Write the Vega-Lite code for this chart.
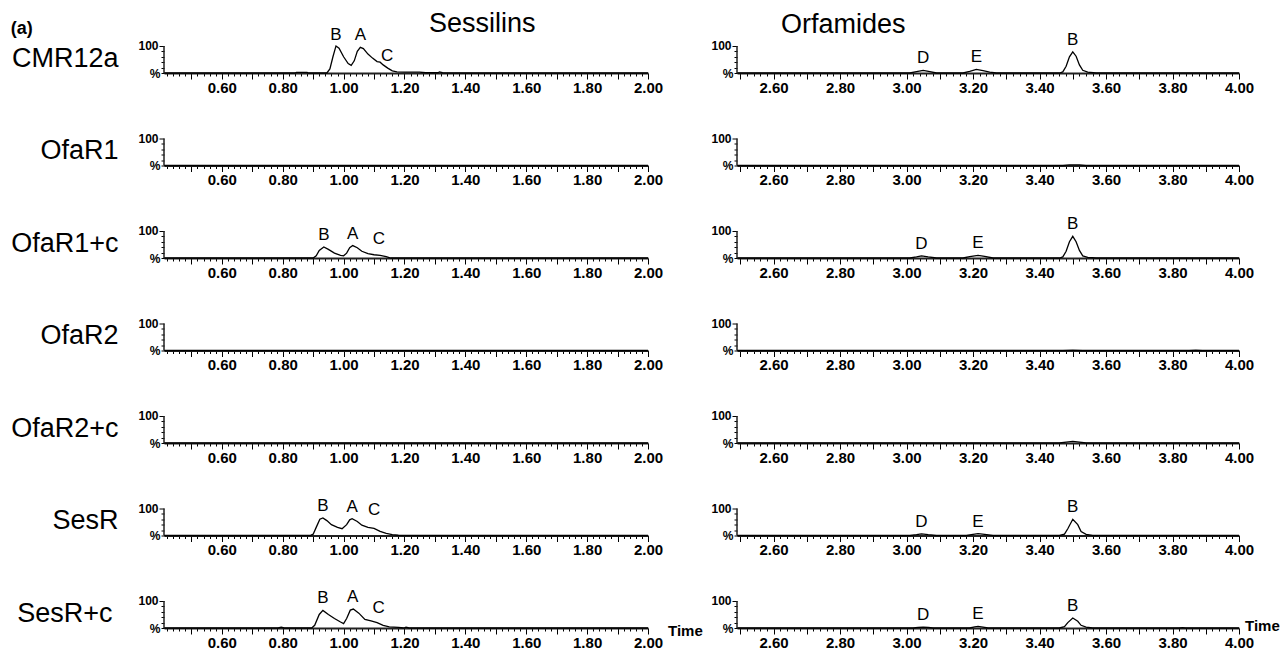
{
"$schema": "https://vega.github.io/schema/vega-lite/v6.json",
"background": "white",
"padding": {"left": 10, "top": 10, "right": 0, "bottom": 0},
"title": {"text": "(a)", "anchor": "start", "frame": "bounds", "fontSize": 18, "fontWeight": "bold", "color": "black", "offset": -28},
"config": {
 "view": {"stroke": null},
 "font": "Liberation Sans",
 "numberFormat": ".2f",
 "title": {"fontSize": 27, "fontWeight": "normal", "color": "black", "font": "Liberation Sans"},
 "axisX": {"grid": false, "labelOverlap": false, "labelFlush": false, "labelFont": "Liberation Sans", "labelFontWeight": "bold", "labelFontSize": 15, "labelColor": "black", "labelPadding": 1, "tickColor": "black", "tickWidth": 1, "domainColor": "#222", "domainWidth": 2},
 "axisY": {"grid": false, "domain": false, "labelFont": "Liberation Sans", "labelFontWeight": "bold", "labelFontSize": 12, "labelColor": "black", "labelPadding": 1, "tickColor": "black", "titleAngle": 0, "titleAlign": "right", "titleBaseline": "middle", "titleFont": "Liberation Sans", "titleFontSize": 27, "titleFontWeight": "normal", "titleColor": "black", "titleX": -46, "titleY": 31},
 "text": {"font": "Liberation Sans"}
},
"data": {"values": [
{"s":"CMR12a","g":"S","t":0.41,"v":0},{"s":"CMR12a","g":"S","t":0.84,"v":0},{"s":"CMR12a","g":"S","t":0.845,"v":2.5},{"s":"CMR12a","g":"S","t":0.88,"v":2.5},{"s":"CMR12a","g":"S","t":0.885,"v":0},{"s":"CMR12a","g":"S","t":0.945,"v":0},{"s":"CMR12a","g":"S","t":0.955,"v":15},{"s":"CMR12a","g":"S","t":0.965,"v":60},{"s":"CMR12a","g":"S","t":0.975,"v":100},{"s":"CMR12a","g":"S","t":0.985,"v":92},{"s":"CMR12a","g":"S","t":1.0,"v":60},{"s":"CMR12a","g":"S","t":1.015,"v":35},{"s":"CMR12a","g":"S","t":1.025,"v":28},{"s":"CMR12a","g":"S","t":1.035,"v":45},{"s":"CMR12a","g":"S","t":1.045,"v":80},{"s":"CMR12a","g":"S","t":1.055,"v":95},{"s":"CMR12a","g":"S","t":1.065,"v":90},{"s":"CMR12a","g":"S","t":1.08,"v":70},{"s":"CMR12a","g":"S","t":1.095,"v":55},{"s":"CMR12a","g":"S","t":1.11,"v":42},{"s":"CMR12a","g":"S","t":1.12,"v":40},{"s":"CMR12a","g":"S","t":1.13,"v":30},{"s":"CMR12a","g":"S","t":1.145,"v":18},{"s":"CMR12a","g":"S","t":1.16,"v":8},{"s":"CMR12a","g":"S","t":1.175,"v":4},{"s":"CMR12a","g":"S","t":1.2,"v":3},{"s":"CMR12a","g":"S","t":1.25,"v":3},{"s":"CMR12a","g":"S","t":1.27,"v":1},{"s":"CMR12a","g":"S","t":1.31,"v":1},{"s":"CMR12a","g":"S","t":1.315,"v":4},{"s":"CMR12a","g":"S","t":1.325,"v":1},{"s":"CMR12a","g":"S","t":1.4,"v":0},{"s":"CMR12a","g":"S","t":2.0,"v":0},
{"s":"OfaR1","g":"S","t":0.41,"v":0},{"s":"OfaR1","g":"S","t":2.0,"v":0},
{"s":"OfaR1+c","g":"S","t":0.41,"v":0},{"s":"OfaR1+c","g":"S","t":0.9,"v":0},{"s":"OfaR1+c","g":"S","t":0.91,"v":8},{"s":"OfaR1+c","g":"S","t":0.92,"v":28},{"s":"OfaR1+c","g":"S","t":0.935,"v":41},{"s":"OfaR1+c","g":"S","t":0.95,"v":32},{"s":"OfaR1+c","g":"S","t":0.97,"v":18},{"s":"OfaR1+c","g":"S","t":0.99,"v":10},{"s":"OfaR1+c","g":"S","t":1.0,"v":8},{"s":"OfaR1+c","g":"S","t":1.01,"v":18},{"s":"OfaR1+c","g":"S","t":1.02,"v":38},{"s":"OfaR1+c","g":"S","t":1.03,"v":46},{"s":"OfaR1+c","g":"S","t":1.045,"v":38},{"s":"OfaR1+c","g":"S","t":1.06,"v":25},{"s":"OfaR1+c","g":"S","t":1.08,"v":16},{"s":"OfaR1+c","g":"S","t":1.1,"v":12},{"s":"OfaR1+c","g":"S","t":1.12,"v":10},{"s":"OfaR1+c","g":"S","t":1.14,"v":5},{"s":"OfaR1+c","g":"S","t":1.155,"v":0},{"s":"OfaR1+c","g":"S","t":2.0,"v":0},
{"s":"OfaR2","g":"S","t":0.41,"v":0},{"s":"OfaR2","g":"S","t":2.0,"v":0},
{"s":"OfaR2+c","g":"S","t":0.41,"v":0},{"s":"OfaR2+c","g":"S","t":2.0,"v":0},
{"s":"SesR","g":"S","t":0.41,"v":0},{"s":"SesR","g":"S","t":0.89,"v":0},{"s":"SesR","g":"S","t":0.9,"v":5},{"s":"SesR","g":"S","t":0.91,"v":30},{"s":"SesR","g":"S","t":0.922,"v":60},{"s":"SesR","g":"S","t":0.932,"v":65},{"s":"SesR","g":"S","t":0.945,"v":55},{"s":"SesR","g":"S","t":0.96,"v":40},{"s":"SesR","g":"S","t":0.98,"v":30},{"s":"SesR","g":"S","t":0.995,"v":25},{"s":"SesR","g":"S","t":1.01,"v":40},{"s":"SesR","g":"S","t":1.02,"v":58},{"s":"SesR","g":"S","t":1.028,"v":62},{"s":"SesR","g":"S","t":1.045,"v":52},{"s":"SesR","g":"S","t":1.06,"v":38},{"s":"SesR","g":"S","t":1.08,"v":30},{"s":"SesR","g":"S","t":1.1,"v":26},{"s":"SesR","g":"S","t":1.12,"v":15},{"s":"SesR","g":"S","t":1.14,"v":8},{"s":"SesR","g":"S","t":1.16,"v":3},{"s":"SesR","g":"S","t":1.18,"v":1},{"s":"SesR","g":"S","t":1.2,"v":0},{"s":"SesR","g":"S","t":2.0,"v":0},
{"s":"SesR+c","g":"S","t":0.41,"v":0},{"s":"SesR+c","g":"S","t":0.785,"v":0},{"s":"SesR+c","g":"S","t":0.795,"v":3},{"s":"SesR+c","g":"S","t":0.805,"v":0},{"s":"SesR+c","g":"S","t":0.895,"v":0},{"s":"SesR+c","g":"S","t":0.905,"v":10},{"s":"SesR+c","g":"S","t":0.92,"v":50},{"s":"SesR+c","g":"S","t":0.932,"v":65},{"s":"SesR+c","g":"S","t":0.95,"v":50},{"s":"SesR+c","g":"S","t":0.97,"v":35},{"s":"SesR+c","g":"S","t":0.99,"v":22},{"s":"SesR+c","g":"S","t":1.0,"v":16},{"s":"SesR+c","g":"S","t":1.01,"v":35},{"s":"SesR+c","g":"S","t":1.022,"v":66},{"s":"SesR+c","g":"S","t":1.032,"v":70},{"s":"SesR+c","g":"S","t":1.05,"v":55},{"s":"SesR+c","g":"S","t":1.07,"v":32},{"s":"SesR+c","g":"S","t":1.09,"v":26},{"s":"SesR+c","g":"S","t":1.11,"v":20},{"s":"SesR+c","g":"S","t":1.13,"v":10},{"s":"SesR+c","g":"S","t":1.15,"v":4},{"s":"SesR+c","g":"S","t":1.18,"v":2},{"s":"SesR+c","g":"S","t":1.198,"v":0},{"s":"SesR+c","g":"S","t":1.205,"v":3},{"s":"SesR+c","g":"S","t":1.215,"v":0},{"s":"SesR+c","g":"S","t":2.0,"v":0},
{"s":"CMR12a","g":"O","t":2.49,"v":0},{"s":"CMR12a","g":"O","t":3.01,"v":0},{"s":"CMR12a","g":"O","t":3.03,"v":5},{"s":"CMR12a","g":"O","t":3.05,"v":10},{"s":"CMR12a","g":"O","t":3.07,"v":5},{"s":"CMR12a","g":"O","t":3.09,"v":0},{"s":"CMR12a","g":"O","t":3.17,"v":0},{"s":"CMR12a","g":"O","t":3.19,"v":6},{"s":"CMR12a","g":"O","t":3.21,"v":13},{"s":"CMR12a","g":"O","t":3.23,"v":9},{"s":"CMR12a","g":"O","t":3.25,"v":3},{"s":"CMR12a","g":"O","t":3.27,"v":0},{"s":"CMR12a","g":"O","t":3.46,"v":0},{"s":"CMR12a","g":"O","t":3.47,"v":4},{"s":"CMR12a","g":"O","t":3.48,"v":25},{"s":"CMR12a","g":"O","t":3.49,"v":60},{"s":"CMR12a","g":"O","t":3.5,"v":78},{"s":"CMR12a","g":"O","t":3.51,"v":62},{"s":"CMR12a","g":"O","t":3.52,"v":30},{"s":"CMR12a","g":"O","t":3.53,"v":10},{"s":"CMR12a","g":"O","t":3.545,"v":3},{"s":"CMR12a","g":"O","t":3.57,"v":0},{"s":"CMR12a","g":"O","t":4.0,"v":0},
{"s":"OfaR1","g":"O","t":2.49,"v":0},{"s":"OfaR1","g":"O","t":3.47,"v":0},{"s":"OfaR1","g":"O","t":3.49,"v":2},{"s":"OfaR1","g":"O","t":3.52,"v":2},{"s":"OfaR1","g":"O","t":3.54,"v":0},{"s":"OfaR1","g":"O","t":4.0,"v":0},
{"s":"OfaR1+c","g":"O","t":2.49,"v":0},{"s":"OfaR1+c","g":"O","t":3.01,"v":0},{"s":"OfaR1+c","g":"O","t":3.03,"v":4},{"s":"OfaR1+c","g":"O","t":3.045,"v":8},{"s":"OfaR1+c","g":"O","t":3.065,"v":4},{"s":"OfaR1+c","g":"O","t":3.09,"v":0},{"s":"OfaR1+c","g":"O","t":3.17,"v":0},{"s":"OfaR1+c","g":"O","t":3.19,"v":5},{"s":"OfaR1+c","g":"O","t":3.215,"v":10},{"s":"OfaR1+c","g":"O","t":3.235,"v":6},{"s":"OfaR1+c","g":"O","t":3.26,"v":0},{"s":"OfaR1+c","g":"O","t":3.46,"v":0},{"s":"OfaR1+c","g":"O","t":3.47,"v":4},{"s":"OfaR1+c","g":"O","t":3.48,"v":25},{"s":"OfaR1+c","g":"O","t":3.49,"v":60},{"s":"OfaR1+c","g":"O","t":3.5,"v":80},{"s":"OfaR1+c","g":"O","t":3.51,"v":60},{"s":"OfaR1+c","g":"O","t":3.52,"v":28},{"s":"OfaR1+c","g":"O","t":3.53,"v":8},{"s":"OfaR1+c","g":"O","t":3.545,"v":2},{"s":"OfaR1+c","g":"O","t":3.57,"v":0},{"s":"OfaR1+c","g":"O","t":4.0,"v":0},
{"s":"OfaR2","g":"O","t":2.49,"v":0},{"s":"OfaR2","g":"O","t":3.47,"v":0},{"s":"OfaR2","g":"O","t":3.5,"v":1.5},{"s":"OfaR2","g":"O","t":3.53,"v":0},{"s":"OfaR2","g":"O","t":3.85,"v":0},{"s":"OfaR2","g":"O","t":3.87,"v":1},{"s":"OfaR2","g":"O","t":3.89,"v":0},{"s":"OfaR2","g":"O","t":4.0,"v":0},
{"s":"OfaR2+c","g":"O","t":2.49,"v":0},{"s":"OfaR2+c","g":"O","t":3.46,"v":0},{"s":"OfaR2+c","g":"O","t":3.48,"v":3},{"s":"OfaR2+c","g":"O","t":3.5,"v":6},{"s":"OfaR2+c","g":"O","t":3.52,"v":3},{"s":"OfaR2+c","g":"O","t":3.54,"v":0},{"s":"OfaR2+c","g":"O","t":4.0,"v":0},
{"s":"SesR","g":"O","t":2.49,"v":0},{"s":"SesR","g":"O","t":3.01,"v":0},{"s":"SesR","g":"O","t":3.03,"v":3},{"s":"SesR","g":"O","t":3.045,"v":6},{"s":"SesR","g":"O","t":3.065,"v":3},{"s":"SesR","g":"O","t":3.09,"v":0},{"s":"SesR","g":"O","t":3.18,"v":0},{"s":"SesR","g":"O","t":3.2,"v":4},{"s":"SesR","g":"O","t":3.215,"v":7},{"s":"SesR","g":"O","t":3.235,"v":4},{"s":"SesR","g":"O","t":3.26,"v":0},{"s":"SesR","g":"O","t":3.46,"v":0},{"s":"SesR","g":"O","t":3.475,"v":5},{"s":"SesR","g":"O","t":3.485,"v":25},{"s":"SesR","g":"O","t":3.5,"v":60},{"s":"SesR","g":"O","t":3.515,"v":40},{"s":"SesR","g":"O","t":3.525,"v":15},{"s":"SesR","g":"O","t":3.54,"v":4},{"s":"SesR","g":"O","t":3.56,"v":0},{"s":"SesR","g":"O","t":4.0,"v":0},
{"s":"SesR+c","g":"O","t":2.49,"v":0},{"s":"SesR+c","g":"O","t":3.02,"v":0},{"s":"SesR+c","g":"O","t":3.035,"v":2},{"s":"SesR+c","g":"O","t":3.05,"v":3},{"s":"SesR+c","g":"O","t":3.065,"v":2},{"s":"SesR+c","g":"O","t":3.08,"v":0},{"s":"SesR+c","g":"O","t":3.19,"v":0},{"s":"SesR+c","g":"O","t":3.205,"v":4},{"s":"SesR+c","g":"O","t":3.215,"v":6},{"s":"SesR+c","g":"O","t":3.23,"v":3},{"s":"SesR+c","g":"O","t":3.245,"v":0},{"s":"SesR+c","g":"O","t":3.46,"v":0},{"s":"SesR+c","g":"O","t":3.475,"v":5},{"s":"SesR+c","g":"O","t":3.485,"v":20},{"s":"SesR+c","g":"O","t":3.5,"v":37},{"s":"SesR+c","g":"O","t":3.515,"v":25},{"s":"SesR+c","g":"O","t":3.525,"v":10},{"s":"SesR+c","g":"O","t":3.54,"v":3},{"s":"SesR+c","g":"O","t":3.56,"v":0},{"s":"SesR+c","g":"O","t":3.82,"v":0},{"s":"SesR+c","g":"O","t":3.83,"v":1.5},{"s":"SesR+c","g":"O","t":3.84,"v":0},{"s":"SesR+c","g":"O","t":4.0,"v":0},
{"s":"CMR12a","g":"S","t":0.975,"v":96,"lab":"B"},{"s":"CMR12a","g":"S","t":1.055,"v":95,"lab":"A"},{"s":"CMR12a","g":"S","t":1.143,"v":20,"lab":"C"},
{"s":"OfaR1+c","g":"S","t":0.935,"v":41,"lab":"B"},{"s":"OfaR1+c","g":"S","t":1.03,"v":46,"lab":"A"},{"s":"OfaR1+c","g":"S","t":1.116,"v":25,"lab":"C"},
{"s":"SesR","g":"S","t":0.932,"v":65,"lab":"B"},{"s":"SesR","g":"S","t":1.028,"v":62,"lab":"A"},{"s":"SesR","g":"S","t":1.1,"v":50,"lab":"C"},
{"s":"SesR+c","g":"S","t":0.932,"v":65,"lab":"B"},{"s":"SesR+c","g":"S","t":1.03,"v":70,"lab":"A"},{"s":"SesR+c","g":"S","t":1.115,"v":30,"lab":"C"},
{"s":"SesR+c","g":"S","t":2.0,"v":0,"lab":"Time"},
{"s":"CMR12a","g":"O","t":3.05,"v":10,"lab":"D"},{"s":"CMR12a","g":"O","t":3.21,"v":13,"lab":"E"},{"s":"CMR12a","g":"O","t":3.5,"v":78,"lab":"B"},
{"s":"OfaR1+c","g":"O","t":3.045,"v":8,"lab":"D"},{"s":"OfaR1+c","g":"O","t":3.215,"v":10,"lab":"E"},{"s":"OfaR1+c","g":"O","t":3.5,"v":80,"lab":"B"},
{"s":"SesR","g":"O","t":3.045,"v":6,"lab":"D"},{"s":"SesR","g":"O","t":3.215,"v":7,"lab":"E"},{"s":"SesR","g":"O","t":3.5,"v":60,"lab":"B"},
{"s":"SesR+c","g":"O","t":3.05,"v":3,"lab":"D"},{"s":"SesR+c","g":"O","t":3.215,"v":6,"lab":"E"},{"s":"SesR+c","g":"O","t":3.5,"v":37,"lab":"B"},
{"s":"SesR+c","g":"O","t":4.0,"v":0,"lab":"Time"}
]},
"columns": 2,
"bounds": "flush",
"align": "each",
"spacing": {"row": 46.5, "column": 89},
"concat": [
{"transform": [{"filter": "datum.s == 'CMR12a' && datum.g == 'S'"}], "width": 484, "height": 46,
 "title": {"text": "Sessilins", "anchor": "start", "frame": "group", "dx": 265, "offset": -12},
 "encoding": {
  "x": {"field": "t", "type": "quantitative", "title": null, "scale": {"domain": [0.41, 2.0], "nice": false, "zero": false}, "axis": {"tickCount": 80, "labelExpr": "abs(datum.value*5 - round(datum.value*5)) < 0.001 ? datum.label : ''", "tickSize": {"condition": {"test": "abs(datum.value*10 - round(datum.value*10)) < 0.001", "value": 6}, "value": 3}}},
  "y": {"field": "v", "type": "quantitative", "title": "CMR12a", "scale": {"domain": [0, 170], "nice": false}, "axis": {"values": [0, 20, 40, 60, 80, 100], "labelExpr": "datum.value == 100 ? '100' : (datum.value == 0 ? '%' : '')", "tickSize": {"condition": {"test": "datum.value == 100", "value": 5}, "value": 3}}}},
 "layer": [
  {"transform": [{"filter": "!datum.lab"}], "mark": {"type": "line", "color": "black", "strokeWidth": 1.3}},
  {"transform": [{"filter": "!datum.lab && datum.t == 0.41"}], "mark": {"type": "rule", "color": "#222", "strokeWidth": 1.5}, "encoding": {"y2": {"datum": 100}}},
  {"transform": [{"filter": "datum.lab && datum.lab != 'Time'"}], "mark": {"type": "text", "dy": -7, "baseline": "alphabetic", "fontSize": 17, "color": "black"}, "encoding": {"text": {"field": "lab"}}}
 ]},
{"transform": [{"filter": "datum.s == 'CMR12a' && datum.g == 'O'"}], "width": 502, "height": 46,
 "title": {"text": "Orfamides", "anchor": "start", "frame": "group", "dx": 44, "offset": -12},
 "encoding": {
  "x": {"field": "t", "type": "quantitative", "title": null, "scale": {"domain": [2.49, 4.0], "nice": false, "zero": false}, "axis": {"tickCount": 80, "labelExpr": "abs(datum.value*5 - round(datum.value*5)) < 0.001 ? datum.label : ''", "tickSize": {"condition": {"test": "abs(datum.value*10 - round(datum.value*10)) < 0.001", "value": 6}, "value": 3}}},
  "y": {"field": "v", "type": "quantitative", "title": null, "scale": {"domain": [0, 170], "nice": false}, "axis": {"values": [0, 20, 40, 60, 80, 100], "labelExpr": "datum.value == 100 ? '100' : (datum.value == 0 ? '%' : '')", "tickSize": {"condition": {"test": "datum.value == 100", "value": 5}, "value": 3}}}},
 "layer": [
  {"transform": [{"filter": "!datum.lab"}], "mark": {"type": "line", "color": "black", "strokeWidth": 1.3}},
  {"transform": [{"filter": "!datum.lab && datum.t == 2.49"}], "mark": {"type": "rule", "color": "#222", "strokeWidth": 1.5}, "encoding": {"y2": {"datum": 100}}},
  {"transform": [{"filter": "datum.lab && datum.lab != 'Time'"}], "mark": {"type": "text", "dy": -7, "baseline": "alphabetic", "fontSize": 17, "color": "black"}, "encoding": {"text": {"field": "lab"}}}
 ]},
{"transform": [{"filter": "datum.s == 'OfaR1' && datum.g == 'S'"}], "width": 484, "height": 46,
 "encoding": {
  "x": {"field": "t", "type": "quantitative", "title": null, "scale": {"domain": [0.41, 2.0], "nice": false, "zero": false}, "axis": {"tickCount": 80, "labelExpr": "abs(datum.value*5 - round(datum.value*5)) < 0.001 ? datum.label : ''", "tickSize": {"condition": {"test": "abs(datum.value*10 - round(datum.value*10)) < 0.001", "value": 6}, "value": 3}}},
  "y": {"field": "v", "type": "quantitative", "title": "OfaR1", "scale": {"domain": [0, 170], "nice": false}, "axis": {"values": [0, 20, 40, 60, 80, 100], "labelExpr": "datum.value == 100 ? '100' : (datum.value == 0 ? '%' : '')", "tickSize": {"condition": {"test": "datum.value == 100", "value": 5}, "value": 3}}}},
 "layer": [
  {"transform": [{"filter": "!datum.lab"}], "mark": {"type": "line", "color": "black", "strokeWidth": 1.3}},
  {"transform": [{"filter": "!datum.lab && datum.t == 0.41"}], "mark": {"type": "rule", "color": "#222", "strokeWidth": 1.5}, "encoding": {"y2": {"datum": 100}}}
 ]},
{"transform": [{"filter": "datum.s == 'OfaR1' && datum.g == 'O'"}], "width": 502, "height": 46,
 "encoding": {
  "x": {"field": "t", "type": "quantitative", "title": null, "scale": {"domain": [2.49, 4.0], "nice": false, "zero": false}, "axis": {"tickCount": 80, "labelExpr": "abs(datum.value*5 - round(datum.value*5)) < 0.001 ? datum.label : ''", "tickSize": {"condition": {"test": "abs(datum.value*10 - round(datum.value*10)) < 0.001", "value": 6}, "value": 3}}},
  "y": {"field": "v", "type": "quantitative", "title": null, "scale": {"domain": [0, 170], "nice": false}, "axis": {"values": [0, 20, 40, 60, 80, 100], "labelExpr": "datum.value == 100 ? '100' : (datum.value == 0 ? '%' : '')", "tickSize": {"condition": {"test": "datum.value == 100", "value": 5}, "value": 3}}}},
 "layer": [
  {"transform": [{"filter": "!datum.lab"}], "mark": {"type": "line", "color": "black", "strokeWidth": 1.3}},
  {"transform": [{"filter": "!datum.lab && datum.t == 2.49"}], "mark": {"type": "rule", "color": "#222", "strokeWidth": 1.5}, "encoding": {"y2": {"datum": 100}}}
 ]},
{"transform": [{"filter": "datum.s == 'OfaR1+c' && datum.g == 'S'"}], "width": 484, "height": 46,
 "encoding": {
  "x": {"field": "t", "type": "quantitative", "title": null, "scale": {"domain": [0.41, 2.0], "nice": false, "zero": false}, "axis": {"tickCount": 80, "labelExpr": "abs(datum.value*5 - round(datum.value*5)) < 0.001 ? datum.label : ''", "tickSize": {"condition": {"test": "abs(datum.value*10 - round(datum.value*10)) < 0.001", "value": 6}, "value": 3}}},
  "y": {"field": "v", "type": "quantitative", "title": "OfaR1+c", "scale": {"domain": [0, 170], "nice": false}, "axis": {"values": [0, 20, 40, 60, 80, 100], "labelExpr": "datum.value == 100 ? '100' : (datum.value == 0 ? '%' : '')", "tickSize": {"condition": {"test": "datum.value == 100", "value": 5}, "value": 3}}}},
 "layer": [
  {"transform": [{"filter": "!datum.lab"}], "mark": {"type": "line", "color": "black", "strokeWidth": 1.3}},
  {"transform": [{"filter": "!datum.lab && datum.t == 0.41"}], "mark": {"type": "rule", "color": "#222", "strokeWidth": 1.5}, "encoding": {"y2": {"datum": 100}}},
  {"transform": [{"filter": "datum.lab && datum.lab != 'Time'"}], "mark": {"type": "text", "dy": -7, "baseline": "alphabetic", "fontSize": 17, "color": "black"}, "encoding": {"text": {"field": "lab"}}}
 ]},
{"transform": [{"filter": "datum.s == 'OfaR1+c' && datum.g == 'O'"}], "width": 502, "height": 46,
 "encoding": {
  "x": {"field": "t", "type": "quantitative", "title": null, "scale": {"domain": [2.49, 4.0], "nice": false, "zero": false}, "axis": {"tickCount": 80, "labelExpr": "abs(datum.value*5 - round(datum.value*5)) < 0.001 ? datum.label : ''", "tickSize": {"condition": {"test": "abs(datum.value*10 - round(datum.value*10)) < 0.001", "value": 6}, "value": 3}}},
  "y": {"field": "v", "type": "quantitative", "title": null, "scale": {"domain": [0, 170], "nice": false}, "axis": {"values": [0, 20, 40, 60, 80, 100], "labelExpr": "datum.value == 100 ? '100' : (datum.value == 0 ? '%' : '')", "tickSize": {"condition": {"test": "datum.value == 100", "value": 5}, "value": 3}}}},
 "layer": [
  {"transform": [{"filter": "!datum.lab"}], "mark": {"type": "line", "color": "black", "strokeWidth": 1.3}},
  {"transform": [{"filter": "!datum.lab && datum.t == 2.49"}], "mark": {"type": "rule", "color": "#222", "strokeWidth": 1.5}, "encoding": {"y2": {"datum": 100}}},
  {"transform": [{"filter": "datum.lab && datum.lab != 'Time'"}], "mark": {"type": "text", "dy": -7, "baseline": "alphabetic", "fontSize": 17, "color": "black"}, "encoding": {"text": {"field": "lab"}}}
 ]},
{"transform": [{"filter": "datum.s == 'OfaR2' && datum.g == 'S'"}], "width": 484, "height": 46,
 "encoding": {
  "x": {"field": "t", "type": "quantitative", "title": null, "scale": {"domain": [0.41, 2.0], "nice": false, "zero": false}, "axis": {"tickCount": 80, "labelExpr": "abs(datum.value*5 - round(datum.value*5)) < 0.001 ? datum.label : ''", "tickSize": {"condition": {"test": "abs(datum.value*10 - round(datum.value*10)) < 0.001", "value": 6}, "value": 3}}},
  "y": {"field": "v", "type": "quantitative", "title": "OfaR2", "scale": {"domain": [0, 170], "nice": false}, "axis": {"values": [0, 20, 40, 60, 80, 100], "labelExpr": "datum.value == 100 ? '100' : (datum.value == 0 ? '%' : '')", "tickSize": {"condition": {"test": "datum.value == 100", "value": 5}, "value": 3}}}},
 "layer": [
  {"transform": [{"filter": "!datum.lab"}], "mark": {"type": "line", "color": "black", "strokeWidth": 1.3}},
  {"transform": [{"filter": "!datum.lab && datum.t == 0.41"}], "mark": {"type": "rule", "color": "#222", "strokeWidth": 1.5}, "encoding": {"y2": {"datum": 100}}}
 ]},
{"transform": [{"filter": "datum.s == 'OfaR2' && datum.g == 'O'"}], "width": 502, "height": 46,
 "encoding": {
  "x": {"field": "t", "type": "quantitative", "title": null, "scale": {"domain": [2.49, 4.0], "nice": false, "zero": false}, "axis": {"tickCount": 80, "labelExpr": "abs(datum.value*5 - round(datum.value*5)) < 0.001 ? datum.label : ''", "tickSize": {"condition": {"test": "abs(datum.value*10 - round(datum.value*10)) < 0.001", "value": 6}, "value": 3}}},
  "y": {"field": "v", "type": "quantitative", "title": null, "scale": {"domain": [0, 170], "nice": false}, "axis": {"values": [0, 20, 40, 60, 80, 100], "labelExpr": "datum.value == 100 ? '100' : (datum.value == 0 ? '%' : '')", "tickSize": {"condition": {"test": "datum.value == 100", "value": 5}, "value": 3}}}},
 "layer": [
  {"transform": [{"filter": "!datum.lab"}], "mark": {"type": "line", "color": "black", "strokeWidth": 1.3}},
  {"transform": [{"filter": "!datum.lab && datum.t == 2.49"}], "mark": {"type": "rule", "color": "#222", "strokeWidth": 1.5}, "encoding": {"y2": {"datum": 100}}}
 ]},
{"transform": [{"filter": "datum.s == 'OfaR2+c' && datum.g == 'S'"}], "width": 484, "height": 46,
 "encoding": {
  "x": {"field": "t", "type": "quantitative", "title": null, "scale": {"domain": [0.41, 2.0], "nice": false, "zero": false}, "axis": {"tickCount": 80, "labelExpr": "abs(datum.value*5 - round(datum.value*5)) < 0.001 ? datum.label : ''", "tickSize": {"condition": {"test": "abs(datum.value*10 - round(datum.value*10)) < 0.001", "value": 6}, "value": 3}}},
  "y": {"field": "v", "type": "quantitative", "title": "OfaR2+c", "scale": {"domain": [0, 170], "nice": false}, "axis": {"values": [0, 20, 40, 60, 80, 100], "labelExpr": "datum.value == 100 ? '100' : (datum.value == 0 ? '%' : '')", "tickSize": {"condition": {"test": "datum.value == 100", "value": 5}, "value": 3}}}},
 "layer": [
  {"transform": [{"filter": "!datum.lab"}], "mark": {"type": "line", "color": "black", "strokeWidth": 1.3}},
  {"transform": [{"filter": "!datum.lab && datum.t == 0.41"}], "mark": {"type": "rule", "color": "#222", "strokeWidth": 1.5}, "encoding": {"y2": {"datum": 100}}}
 ]},
{"transform": [{"filter": "datum.s == 'OfaR2+c' && datum.g == 'O'"}], "width": 502, "height": 46,
 "encoding": {
  "x": {"field": "t", "type": "quantitative", "title": null, "scale": {"domain": [2.49, 4.0], "nice": false, "zero": false}, "axis": {"tickCount": 80, "labelExpr": "abs(datum.value*5 - round(datum.value*5)) < 0.001 ? datum.label : ''", "tickSize": {"condition": {"test": "abs(datum.value*10 - round(datum.value*10)) < 0.001", "value": 6}, "value": 3}}},
  "y": {"field": "v", "type": "quantitative", "title": null, "scale": {"domain": [0, 170], "nice": false}, "axis": {"values": [0, 20, 40, 60, 80, 100], "labelExpr": "datum.value == 100 ? '100' : (datum.value == 0 ? '%' : '')", "tickSize": {"condition": {"test": "datum.value == 100", "value": 5}, "value": 3}}}},
 "layer": [
  {"transform": [{"filter": "!datum.lab"}], "mark": {"type": "line", "color": "black", "strokeWidth": 1.3}},
  {"transform": [{"filter": "!datum.lab && datum.t == 2.49"}], "mark": {"type": "rule", "color": "#222", "strokeWidth": 1.5}, "encoding": {"y2": {"datum": 100}}}
 ]},
{"transform": [{"filter": "datum.s == 'SesR' && datum.g == 'S'"}], "width": 484, "height": 46,
 "encoding": {
  "x": {"field": "t", "type": "quantitative", "title": null, "scale": {"domain": [0.41, 2.0], "nice": false, "zero": false}, "axis": {"tickCount": 80, "labelExpr": "abs(datum.value*5 - round(datum.value*5)) < 0.001 ? datum.label : ''", "tickSize": {"condition": {"test": "abs(datum.value*10 - round(datum.value*10)) < 0.001", "value": 6}, "value": 3}}},
  "y": {"field": "v", "type": "quantitative", "title": "SesR", "scale": {"domain": [0, 170], "nice": false}, "axis": {"values": [0, 20, 40, 60, 80, 100], "labelExpr": "datum.value == 100 ? '100' : (datum.value == 0 ? '%' : '')", "tickSize": {"condition": {"test": "datum.value == 100", "value": 5}, "value": 3}}}},
 "layer": [
  {"transform": [{"filter": "!datum.lab"}], "mark": {"type": "line", "color": "black", "strokeWidth": 1.3}},
  {"transform": [{"filter": "!datum.lab && datum.t == 0.41"}], "mark": {"type": "rule", "color": "#222", "strokeWidth": 1.5}, "encoding": {"y2": {"datum": 100}}},
  {"transform": [{"filter": "datum.lab && datum.lab != 'Time'"}], "mark": {"type": "text", "dy": -7, "baseline": "alphabetic", "fontSize": 17, "color": "black"}, "encoding": {"text": {"field": "lab"}}}
 ]},
{"transform": [{"filter": "datum.s == 'SesR' && datum.g == 'O'"}], "width": 502, "height": 46,
 "encoding": {
  "x": {"field": "t", "type": "quantitative", "title": null, "scale": {"domain": [2.49, 4.0], "nice": false, "zero": false}, "axis": {"tickCount": 80, "labelExpr": "abs(datum.value*5 - round(datum.value*5)) < 0.001 ? datum.label : ''", "tickSize": {"condition": {"test": "abs(datum.value*10 - round(datum.value*10)) < 0.001", "value": 6}, "value": 3}}},
  "y": {"field": "v", "type": "quantitative", "title": null, "scale": {"domain": [0, 170], "nice": false}, "axis": {"values": [0, 20, 40, 60, 80, 100], "labelExpr": "datum.value == 100 ? '100' : (datum.value == 0 ? '%' : '')", "tickSize": {"condition": {"test": "datum.value == 100", "value": 5}, "value": 3}}}},
 "layer": [
  {"transform": [{"filter": "!datum.lab"}], "mark": {"type": "line", "color": "black", "strokeWidth": 1.3}},
  {"transform": [{"filter": "!datum.lab && datum.t == 2.49"}], "mark": {"type": "rule", "color": "#222", "strokeWidth": 1.5}, "encoding": {"y2": {"datum": 100}}},
  {"transform": [{"filter": "datum.lab && datum.lab != 'Time'"}], "mark": {"type": "text", "dy": -7, "baseline": "alphabetic", "fontSize": 17, "color": "black"}, "encoding": {"text": {"field": "lab"}}}
 ]},
{"transform": [{"filter": "datum.s == 'SesR+c' && datum.g == 'S'"}], "width": 484, "height": 46,
 "encoding": {
  "x": {"field": "t", "type": "quantitative", "title": null, "scale": {"domain": [0.41, 2.0], "nice": false, "zero": false}, "axis": {"tickCount": 80, "labelExpr": "abs(datum.value*5 - round(datum.value*5)) < 0.001 ? datum.label : ''", "tickSize": {"condition": {"test": "abs(datum.value*10 - round(datum.value*10)) < 0.001", "value": 6}, "value": 3}}},
  "y": {"field": "v", "type": "quantitative", "title": "SesR+c", "scale": {"domain": [0, 170], "nice": false}, "axis": {"titleX": -52, "values": [0, 20, 40, 60, 80, 100], "labelExpr": "datum.value == 100 ? '100' : (datum.value == 0 ? '%' : '')", "tickSize": {"condition": {"test": "datum.value == 100", "value": 5}, "value": 3}}}},
 "layer": [
  {"transform": [{"filter": "!datum.lab"}], "mark": {"type": "line", "color": "black", "strokeWidth": 1.3}},
  {"transform": [{"filter": "!datum.lab && datum.t == 0.41"}], "mark": {"type": "rule", "color": "#222", "strokeWidth": 1.5}, "encoding": {"y2": {"datum": 100}}},
  {"transform": [{"filter": "datum.lab && datum.lab != 'Time'"}], "mark": {"type": "text", "dy": -7, "baseline": "alphabetic", "fontSize": 17, "color": "black"}, "encoding": {"text": {"field": "lab"}}},
  {"transform": [{"filter": "datum.lab == 'Time'"}], "mark": {"type": "text", "align": "left", "baseline": "middle", "dx": 20, "dy": 3, "fontSize": 15, "fontWeight": "bold", "color": "black"}, "encoding": {"text": {"field": "lab"}}}
 ]},
{"transform": [{"filter": "datum.s == 'SesR+c' && datum.g == 'O'"}], "width": 502, "height": 46,
 "encoding": {
  "x": {"field": "t", "type": "quantitative", "title": null, "scale": {"domain": [2.49, 4.0], "nice": false, "zero": false}, "axis": {"tickCount": 80, "labelExpr": "abs(datum.value*5 - round(datum.value*5)) < 0.001 ? datum.label : ''", "tickSize": {"condition": {"test": "abs(datum.value*10 - round(datum.value*10)) < 0.001", "value": 6}, "value": 3}}},
  "y": {"field": "v", "type": "quantitative", "title": null, "scale": {"domain": [0, 170], "nice": false}, "axis": {"values": [0, 20, 40, 60, 80, 100], "labelExpr": "datum.value == 100 ? '100' : (datum.value == 0 ? '%' : '')", "tickSize": {"condition": {"test": "datum.value == 100", "value": 5}, "value": 3}}}},
 "layer": [
  {"transform": [{"filter": "!datum.lab"}], "mark": {"type": "line", "color": "black", "strokeWidth": 1.3}},
  {"transform": [{"filter": "!datum.lab && datum.t == 2.49"}], "mark": {"type": "rule", "color": "#222", "strokeWidth": 1.5}, "encoding": {"y2": {"datum": 100}}},
  {"transform": [{"filter": "datum.lab && datum.lab != 'Time'"}], "mark": {"type": "text", "dy": -7, "baseline": "alphabetic", "fontSize": 17, "color": "black"}, "encoding": {"text": {"field": "lab"}}},
  {"transform": [{"filter": "datum.lab == 'Time'"}], "mark": {"type": "text", "align": "left", "baseline": "middle", "dx": 6, "dy": -2, "fontSize": 15, "fontWeight": "bold", "color": "black"}, "encoding": {"text": {"field": "lab"}}}
 ]}
]
}
